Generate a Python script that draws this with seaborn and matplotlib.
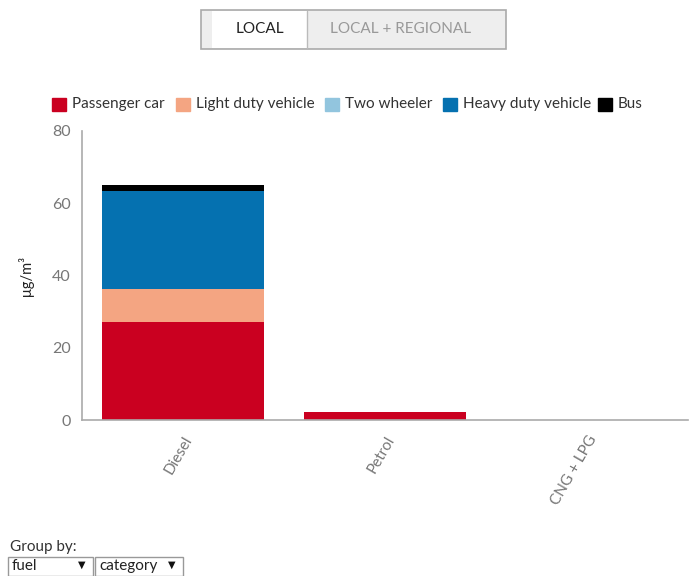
import matplotlib
matplotlib.use("Agg")
import matplotlib.pyplot as plt
from matplotlib.patches import Rectangle
import seaborn as sns
import pandas as pd
import numpy as np

fuels = ["Diesel", "Petrol", "CNG + LPG"]
categories = ["Passenger car", "Light duty vehicle", "Two wheeler", "Heavy duty vehicle", "Bus"]
passenger_car = [27.1, 2.3, 0.1]
light_duty = [9.2, 0.0, 0.0]
two_wheeler = [0.0, 0.0, 0.0]
heavy_duty = [27.1, 0.0, 0.0]
bus = [1.7, 0.0, 0.0]
colors = ["#ca0020", "#f4a582", "#92c5de", "#0571b0", "#000000"]
y_ticks = [0, 20, 40, 60, 80]

sns.set_style("white")
plt.rcParams["font.family"] = ["Lato", "DejaVu Sans"]

fig = plt.figure(figsize=(6.89, 5.76), dpi=100)
ax = fig.add_axes([82/689, 1 - 420/576, (688 - 82)/689, (420 - 131)/576])

series = [passenger_car, light_duty, two_wheeler, heavy_duty, bus]
cum = np.cumsum(np.array(series), axis=0)
for i in range(len(categories) - 1, -1, -1):
    df = pd.DataFrame({"fuel": fuels, "value": cum[i]})
    sns.barplot(data=df, x="fuel", y="value", color=colors[i], width=0.8,
                saturation=1, ax=ax, linewidth=0)

ax.set_ylim(0, 80)
ax.set_xlim(-0.5, 2.5)
ax.set_yticks(y_ticks)
ax.set_xlabel("")
ax.set_ylabel("μg/m³", fontsize=10.5, color="#222222")
ax.yaxis.set_label_coords(-0.08, 0.5)
for s in ["top", "right"]:
    ax.spines[s].set_visible(False)
for s in ["left", "bottom"]:
    ax.spines[s].set_color("#aaaaaa")
    ax.spines[s].set_linewidth(1.2)
ax.tick_params(axis="both", colors="#aaaaaa", length=6, width=1, direction="out",
               labelcolor="#777777", labelsize=11.5)
ax.tick_params(axis="y", pad=2)
for lbl in ax.get_xticklabels():
    lbl.set_rotation(60)
    lbl.set_ha("right")
    lbl.set_rotation_mode("anchor")
    lbl.set_fontsize(11)

# Legend
leg_x = [52, 176, 325, 443, 598]
for x, c, name in zip(leg_x, colors, categories):
    fig.patches.append(Rectangle((x/689, 1 - 111/576), 14/689, 13/576,
                                 transform=fig.transFigure, color=c, zorder=3))
    fig.text((x + 20)/689, 1 - 104/576, name, fontsize=11, color="#333333",
             va="center", ha="left")

# Toggle buttons
fig.patches.append(Rectangle((201/689, 1 - 49/576), 305/689, 39/576,
                             transform=fig.transFigure, facecolor="#eeeeee",
                             edgecolor="#aaaaaa", linewidth=1.2))
fig.patches.append(Rectangle((212/689, 1 - 48/576), 95/689, 37/576,
                             transform=fig.transFigure, facecolor="white",
                             edgecolor="none"))
fig.add_artist(plt.Line2D([307/689, 307/689], [1 - 48/576, 1 - 11/576],
                          transform=fig.transFigure, color="#bbbbbb", linewidth=1))
fig.text(260/689, 1 - 29/576, "LOCAL", fontsize=11, color="#222222",
         ha="center", va="center")
fig.text(401/689, 1 - 29/576, "LOCAL + REGIONAL", fontsize=11, color="#999999",
         ha="center", va="center")

# Group by controls
fig.text(10/689, 1 - 547/576, "Group by:", fontsize=11, color="#333333",
         ha="left", va="center")
fig.patches.append(Rectangle((8/689, 0), 85/689, 19/576,
                             transform=fig.transFigure, facecolor="white",
                             edgecolor="#999999", linewidth=1))
fig.patches.append(Rectangle((95/689, 0), 88/689, 19/576,
                             transform=fig.transFigure, facecolor="white",
                             edgecolor="#999999", linewidth=1))
fig.text(12/689, 1 - 566/576, "fuel", fontsize=11, color="#222222", ha="left", va="center")
fig.text(82/689, 1 - 565/576, "▼", fontsize=7, color="#111111", ha="center", va="center",
         family=["DejaVu Sans"])
fig.text(99/689, 1 - 566/576, "category", fontsize=11, color="#222222", ha="left", va="center")
fig.text(172/689, 1 - 565/576, "▼", fontsize=7, color="#111111", ha="center", va="center",
         family=["DejaVu Sans"])

fig.savefig("out.png", dpi=100)
